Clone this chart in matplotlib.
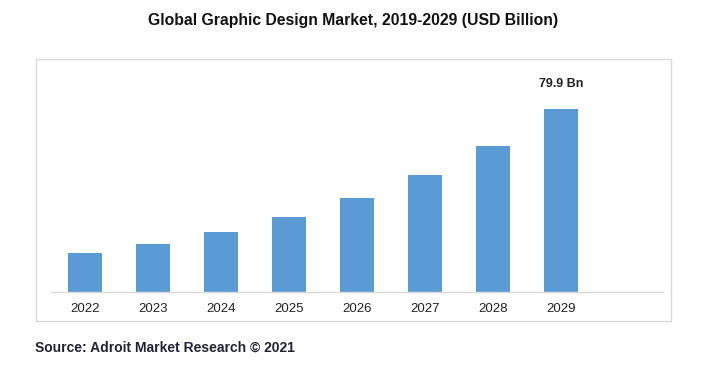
import matplotlib
matplotlib.use("Agg")
import matplotlib.pyplot as plt
from matplotlib.patches import Rectangle

plt.rcParams['font.family'] = ['Liberation Sans', 'DejaVu Sans']

years = ['2022', '2023', '2024', '2025', '2026', '2027', '2028', '2029']
values = [17.0, 21.0, 26.2, 32.7, 41.0, 51.1, 63.7, 79.9]
last_label = '79.9 Bn'

W, H = 707, 375
fig = plt.figure(figsize=(W / 100, H / 100), dpi=100)

# axes placed in pixel terms
left, right, bottom, top = 51, 663, 292, 60
ax = fig.add_axes([left / W, (H - bottom) / H, (right - left) / W, (bottom - top) / H])

x = list(range(len(years)))
ax.bar(x, values, width=0.5, color='#5b9bd5')
ax.set_xlim(-0.5, len(years) + 0.5)
ax.set_ylim(0, values[-1] * (bottom - top) / 183)

ax.set_xticks(x)
ax.set_xticklabels(years, fontsize=9.5, color='#222222')
ax.tick_params(axis='x', length=0, pad=8)
ax.set_yticks([])
for s in ['top', 'left', 'right']:
    ax.spines[s].set_visible(False)
ax.spines['bottom'].set_color('#d9d9d9')
ax.spines['bottom'].set_linewidth(1)

ax.annotate(last_label, (x[-1], values[-1]), xytext=(0, 14), textcoords='offset points',
            ha='center', va='bottom', fontsize=9, fontweight='bold', color='#222222')

# outer chart border
fig.add_artist(Rectangle((36 / W, (H - 321) / H), (671 - 36) / W, (321 - 59) / H,
                         transform=fig.transFigure, fill=False, edgecolor='#d9d9d9', linewidth=1))

fig.text(0.5, 1 - 20 / H, 'Global Graphic Design Market, 2019-2029 (USD Billion)',
         ha='center', va='center', fontsize=11.3, fontweight='bold', color='#111111')
fig.text(35 / W, 1 - 348 / H, 'Source: Adroit Market Research \u00a9 2021',
         ha='left', va='center', fontsize=10, fontweight='bold', color='#222233')

fig.savefig('out.png', dpi=100)
